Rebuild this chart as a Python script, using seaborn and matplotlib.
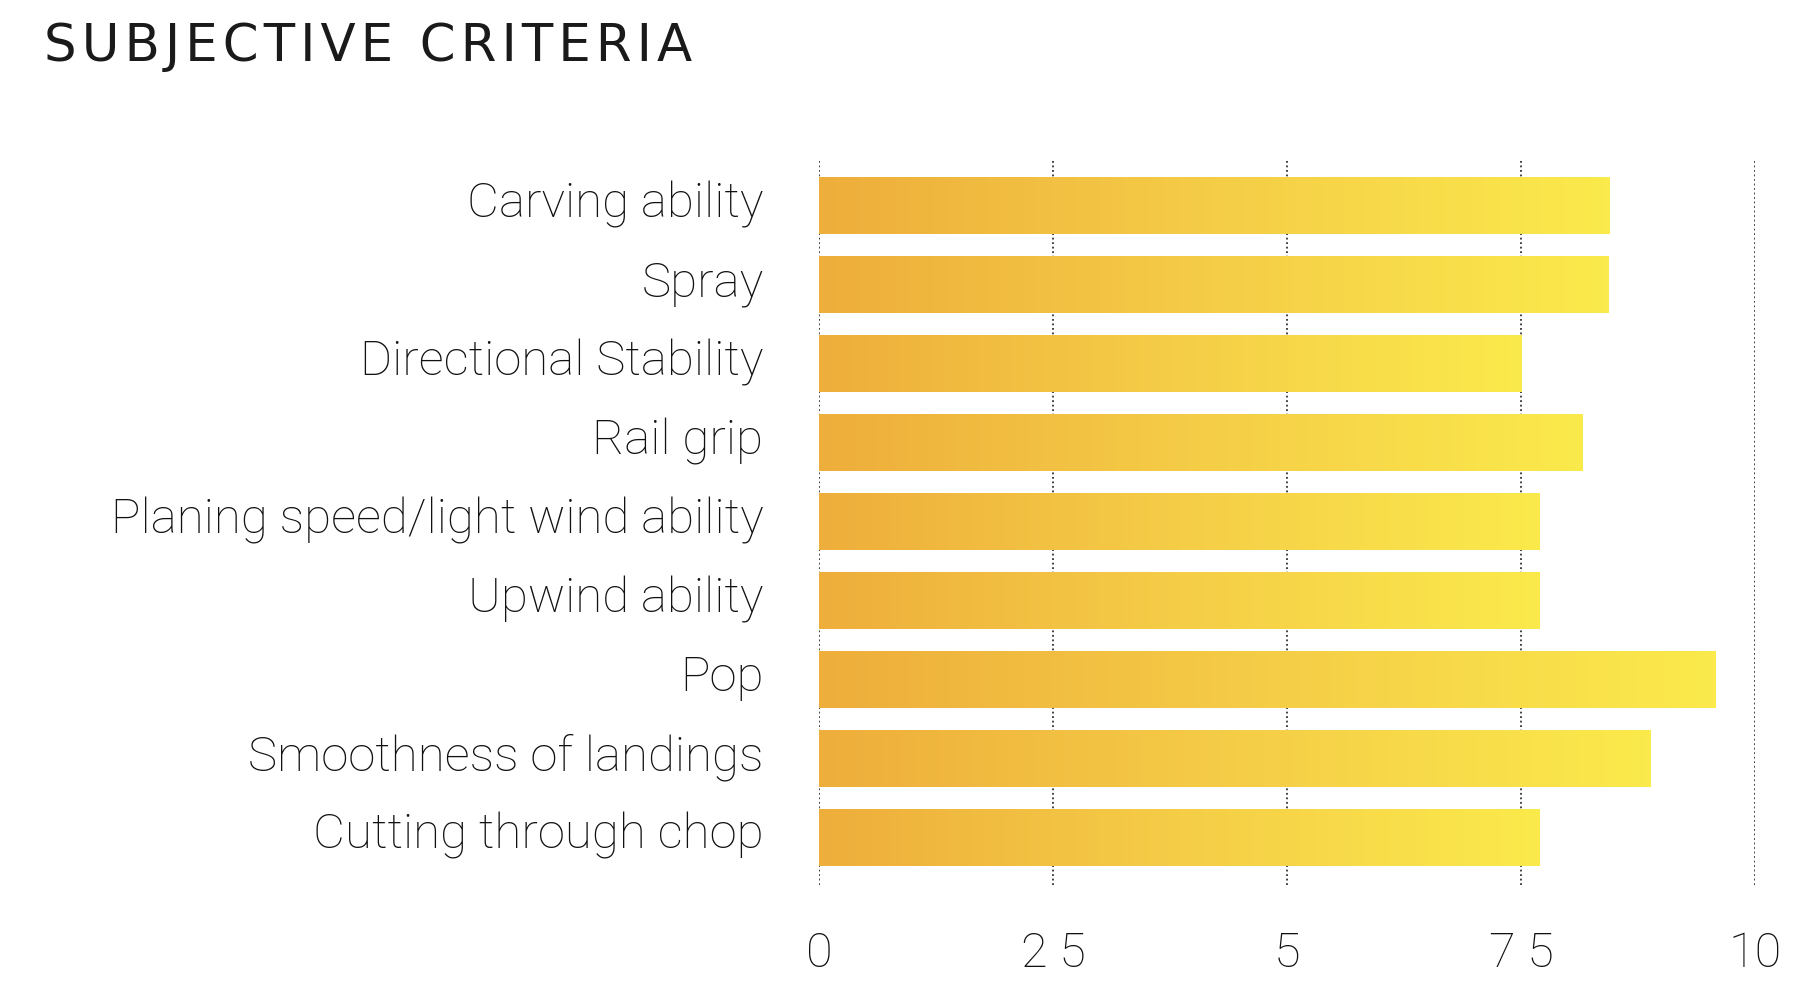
import matplotlib
matplotlib.use("Agg")
import matplotlib.pyplot as plt
import matplotlib.transforms as mtransforms
import numpy as np
import pandas as pd
import seaborn as sns
from matplotlib.colors import LinearSegmentedColormap

categories = [
    "Carving ability",
    "Spray",
    "Directional Stability",
    "Rail grip",
    "Planing speed/light wind ability",
    "Upwind ability",
    "Pop",
    "Smoothness of landings",
    "Cutting through chop",
]
scores = [8.45, 8.43, 7.5, 8.16, 7.7, 7.7, 9.58, 8.88, 7.7]
tick_values = [0, 2.5, 5, 7.5, 10]
tick_labels = ["0", "2 5", "5", "7 5", "10"]
title = "SUBJECTIVE CRITERIA"

df = pd.DataFrame({"criterion": categories, "score": scores})

sns.set_theme(style="white")
plt.rcParams["font.family"] = ["Roboto", "DejaVu Sans"]

fig = plt.figure(figsize=(18.08, 10.08), dpi=100)
ax = fig.add_axes([0.453, 0.122, 0.5177, 0.7203])

sns.barplot(data=df, y="criterion", x="score", orient="h", ax=ax,
            color="#F2C040", width=0.71, saturation=1, edgecolor="none")

cmap = LinearSegmentedColormap.from_list("g", ["#EEAE3B", "#F5CD47", "#FBEA4C"])
grad = np.linspace(0, 1, 256).reshape(1, -1)
for p in ax.patches:
    x0, y0 = p.get_x(), p.get_y()
    w, h = p.get_width(), p.get_height()
    p.set_facecolor("none")
    ax.imshow(grad, cmap=cmap, aspect="auto", extent=[x0, x0 + w, y0 + h, y0],
              zorder=3, interpolation="bicubic")

ax.set_xlim(0, 10)
ax.set_ylim(len(categories) - 0.4, -0.6)
for v in tick_values:
    ax.axvline(v, color="#333333", linestyle=(0, (1, 1.5)), linewidth=1.3, zorder=1)

ax.set_xticks(tick_values)
ax.set_xticklabels(tick_labels)
ax.tick_params(axis="x", length=0, pad=33, labelsize=35, labelcolor="#111111")
ax.tick_params(axis="y", length=0, pad=40, labelsize=35.5, labelcolor="#111111")
shift = mtransforms.ScaledTranslation(0, 5 / 72, fig.dpi_scale_trans)
for lab in ax.get_yticklabels():
    lab.set_transform(lab.get_transform() + shift)
    lab.set_fontweight("light")
for lab in ax.get_xticklabels():
    lab.set_fontweight("light")
ax.set_xlabel("")
ax.set_ylabel("")
for s in ax.spines.values():
    s.set_visible(False)

spaced = "\u200a".join(title)
fig.text(0.0243, 0.978, spaced, fontsize=37,
         color="#1a1a1a", ha="left", va="top",
         family=["Liberation Sans Narrow", "DejaVu Sans"])

fig.savefig("out.png", dpi=100, facecolor="white")
